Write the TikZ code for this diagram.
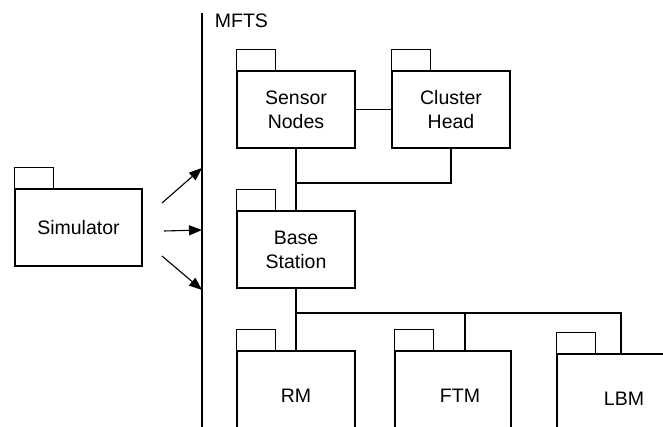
\documentclass[tikz,border=0pt]{standalone}
\usepackage{fontspec}
\setmainfont{Liberation Sans}
\usetikzlibrary{positioning,arrows.meta}

%% package tab on top of a package node
\newcommand{\pkgtab}[1]{\draw (#1.north west) rectangle ++(39pt,21pt);}

\begin{document}
\begin{tikzpicture}[
  x=1pt, y=-1pt,
  line width=1.1pt,
  arrow/.style={-{Triangle[length=13pt,width=10pt]}, line width=1.1pt},
  pkg/.style={draw, minimum width=118pt, minimum height=77pt, align=center, inner sep=0pt},
  every node/.style={font=\fontsize{19.5}{24}\selectfont}
]

%% ── Frame ────────────────────────────────────────────────────────────
\clip (0,0) rectangle (663,427);

%% ── Column x-positions ───────────────────────────────────────────────
\def\xL{202}    % MFTS boundary
\def\xA{296}    % left column
\def\xB{451}    % right column

%% ── MFTS boundary ────────────────────────────────────────────────────
\coordinate (mtop) at (\xL, 13);
\coordinate (mbot) at (\xL, 430);
\draw (mtop) -- (mbot);
\node[anchor=west] (mfts) at (\xL+9, 21) {MFTS};

%% ── Packages ─────────────────────────────────────────────────────────
\node[pkg, minimum width=127pt] (sim) at (78.5, 227.5) {Simulator};
\node[pkg] (sn) at (\xA, 109.5) {Sensor\\Nodes};
\node[pkg] (ch) at (\xB, 109.5) {Cluster\\Head};
\node[pkg] (bs) at (\xA, 249.5) {Base\\Station};
\node[pkg, minimum height=90pt] (rm) at (\xA, 396) {RM};
\node[pkg, minimum width=116pt, minimum height=90pt] (ftm) at (453, 396) {\hspace*{14pt}FTM};
\node[pkg, minimum width=128pt, minimum height=90pt] (lbm) at (621, 399) {\hspace*{6pt}LBM};

\pkgtab{sim}
\pkgtab{sn}
\pkgtab{ch}
\pkgtab{bs}
\pkgtab{rm}
\pkgtab{ftm}
\pkgtab{lbm}

%% ── Simulator -> MFTS ────────────────────────────────────────────────
\coordinate (s1) at (162, 203);
\coordinate (s2) at (164, 231);
\coordinate (s3) at (162, 256);
\coordinate (in1) at (\xL, 168);
\coordinate (in2) at (\xL, 230);
\coordinate (in3) at (\xL, 290);
\draw[arrow] (s1) -- (in1);
\draw[arrow] (s2) -- (in2);
\draw[arrow] (s3) -- (in3);

%% ── Sensor nodes / cluster head / base station ───────────────────────
\coordinate (j1) at (\xA, 183);
\draw (sn.east) -- (ch.west);
\draw (sn.south) -- (bs.north);
\draw (ch.south) |- (j1);

%% ── Base station bus ─────────────────────────────────────────────────
\coordinate (bus) at (\xA, 313);
\draw (bs.south) -- (rm.north);
\draw (bus) -| (lbm.north);
\draw ([xshift=12pt]ftm.north) -- ([xshift=12pt]ftm.north |- bus);

\end{tikzpicture}
\end{document}
